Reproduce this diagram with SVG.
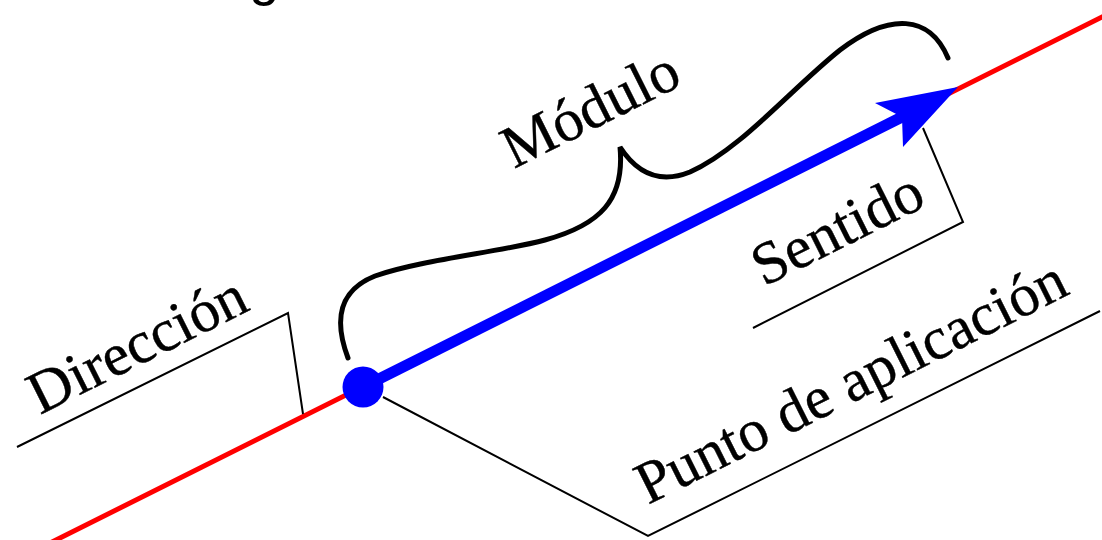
<svg xmlns="http://www.w3.org/2000/svg" width="1102" height="540" viewBox="0 0 1102 540">
<style>
.lbl{font-family:"Liberation Serif","Times New Roman",serif;font-size:60px;fill:#000;stroke:#000;stroke-width:0.4}
.thin{fill:none;stroke:#000;stroke-width:2}
</style>
<rect width="1102" height="540" fill="#fff"/>
<text x="249" y="-6" font-family="Liberation Sans, Arial, sans-serif" font-size="55" fill="#000">g</text>
<g id="connectors">
  <line id="line-direction" x1="50" y1="543" x2="1112" y2="12" stroke="#ff0000" stroke-width="5"/>
  <path id="leader-direccion" class="thin" d="M17,447 L288,313 L303,414"/>
  <path id="leader-sentido" class="thin" d="M753,328 L963,222 L923,128"/>
  <path id="leader-punto" class="thin" d="M1100,311 L648,536 L383,397"/>
  <path id="brace-modulo" fill="none" stroke="#000" stroke-width="5" stroke-linecap="round" d="M348,358 C333,318 340,290 375,276 C420,260 500,252 545,240 C600,225 625,200 620,147 C640,178 665,182 690,172 C740,150 790,90 840,50 C890,12 930,15 948,58"/>
</g>
<g id="vector">
  <line x1="363" y1="387" x2="908" y2="114" stroke="#0000ff" stroke-width="11"/>
  <polygon points="958,87 875,103 902,117 903,147" fill="#0000ff"/>
</g>
<g id="punto">
  <circle cx="363" cy="387" r="20.5" fill="#0000ff"/>
</g>
<g id="label-direccion"><text class="lbl" transform="translate(40,415) rotate(-26.565)">Dirección</text></g>
<g id="label-modulo"><text class="lbl" transform="translate(514,169) rotate(-26.565)">Módulo</text></g>
<g id="label-sentido"><text class="lbl" transform="translate(764,287) rotate(-26.565)">Sentido</text></g>
<g id="label-punto"><text class="lbl" transform="translate(648,505) rotate(-26.565)">Punto de aplicación</text></g>
</svg>
